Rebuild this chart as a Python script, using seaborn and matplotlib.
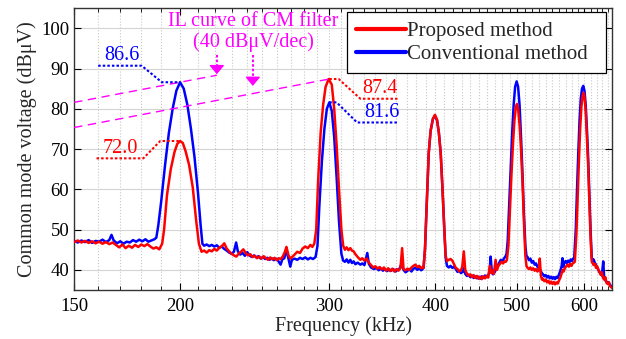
import numpy as np
import pandas as pd
import matplotlib
matplotlib.use("Agg")
import matplotlib.pyplot as plt
from matplotlib.lines import Line2D
from matplotlib.ticker import FixedLocator, NullFormatter
import seaborn as sns

# ---------------------------------------------------------
# Data (kHz, dBuV)
# ---------------------------------------------------------
conv_freq = [
    150, 151.5, 153, 154.5, 156, 157.5, 159, 160.5, 162, 163.5, 165, 166, 167, 168.5, 170,
    171.5, 173, 174.5, 176, 177.5, 179, 180.5, 182, 183.5, 185, 186.5, 187.5,
    188.5, 190, 192, 194, 196, 198, 200, 202, 204, 206, 208, 210, 211.5, 212.5,
    213.5, 215, 216.5, 218, 219.5, 221, 222.5, 224, 225.5, 227, 228.5, 230, 231.5, 232.9,
    234, 235.5, 237, 238.5, 240, 241.5, 243, 244.5, 246, 247.5, 249, 250.5, 252, 253.5,
    255, 256.5, 258, 259.5, 261, 262.8, 264, 265.5, 267, 268, 269.8, 271, 273, 275, 277,
    279, 281, 283, 285, 287, 289,
    290.5, 292, 294, 296, 298, 300, 302, 304, 306, 308, 310, 311.5,
    313, 314.5, 316, 317.6, 319, 320.5, 322, 324, 326.4, 328, 330, 332.6, 334, 336, 338.6,
    341, 343, 345, 347, 349, 351, 353, 355, 357, 359, 361, 363, 365, 367, 369, 371, 373,
    375, 377, 379, 381, 383, 385, 386.5, 387.5,
    389, 391, 393, 395, 397.5, 399.7, 402, 404, 406, 408, 410, 411.5,
    413, 415, 417, 419, 421, 423, 425, 427, 429, 431, 432.5, 434, 436, 438, 440, 442, 444,
    446, 448, 450, 452, 454, 456, 458, 460, 462, 463.5, 465, 466.5, 468, 470, 472, 474,
    476, 478, 480, 482, 484, 485.5,
    487, 489, 491, 493, 495, 497, 499, 501, 503, 505, 507, 509, 511, 512.5,
    514, 516, 518, 520, 522, 524, 526, 528, 530, 532, 534, 536, 538, 540, 542, 544, 546,
    548, 550, 552, 554, 556, 558, 560, 562, 564, 565.2, 566.5, 568, 570, 572, 574, 576,
    578, 580, 582, 583.5,
    586, 588, 590, 592, 594, 596, 598, 600, 602, 604, 606, 608, 610, 612,
    613.5, 615, 617, 619, 621, 623, 625, 627, 629, 631.4, 633, 635, 637, 639, 641, 643,
    645, 647,
]
conv_level = [
    47.2, 46.8, 47.3, 46.9, 47.4, 46.7, 47.2, 47.0, 47.5, 46.9, 47.4, 48.7, 47.3, 46.6, 47.1,
    46.5, 47.0, 46.8, 47.4, 47.0, 47.5, 47.1, 47.6, 47.0, 47.3, 47.6, 48.0,
    51.0, 57.0, 66.0, 74.0, 80.0, 84.5, 86.6, 85.0, 81.0, 75.0, 68.0, 59.0, 51.0, 46.5,
    46.0, 46.3, 45.9, 46.2, 45.8, 46.1, 45.5, 45.8, 45.2, 44.8, 44.3, 44.0, 44.5, 46.8,
    44.6, 43.8, 44.2, 43.5, 44.4, 43.6, 43.2, 43.6, 43.1, 43.4, 42.8, 43.2, 42.7, 43.0,
    42.5, 42.9, 42.4, 42.8, 42.3, 41.3, 42.6, 42.9, 45.2, 43.5, 40.8, 42.5, 42.8, 42.5, 43.0,
    42.7, 43.1, 42.6, 43.0, 42.7, 43.2,
    46.0, 56.0, 67.0, 75.0, 80.0, 81.6, 79.5, 73.0, 63.0, 52.0, 44.0, 42.3,
    42.0, 42.6, 41.8, 42.5, 41.7, 42.1, 41.4, 41.8, 41.3, 41.6, 41.2, 44.2, 41.5, 40.6, 40.2,
    40.5, 39.9, 40.3, 39.8, 40.2, 39.7, 40.1, 39.8, 40.2, 39.6, 40.0, 40.3, 41.5, 40.0, 39.4,
    39.8, 40.1, 39.6, 40.3, 40.5, 40.0, 40.4, 39.9, 40.2, 40.5,
    45.0, 57.0, 69.0, 74.5, 77.5, 78.3, 77.1, 74.0, 69.0, 60.0, 50.0, 43.0,
    41.0, 40.6, 41.0, 40.5, 40.8, 40.2, 39.5, 39.8, 39.2, 39.5, 40.5, 39.0, 38.5, 38.8,
    38.2, 38.6, 38.0, 38.4, 37.9, 38.3, 37.8, 38.4, 38.0, 38.6, 38.2, 38.8, 39.2, 43.3,
    39.5, 38.9, 39.4, 40.2, 41.0, 41.8, 42.5, 42.0, 42.8, 43.3, 44.0,
    47.0, 56.0, 65.0, 74.0, 81.0, 85.5, 86.8, 85.5, 81.0, 73.0, 64.0, 54.0, 46.0, 43.5,
    43.2, 42.4, 42.8, 41.8, 42.2, 41.3, 41.6, 40.8, 40.4, 40.0, 39.3, 38.9, 38.4, 38.7,
    38.1, 38.5, 37.9, 38.3, 37.8, 38.2, 37.7, 38.3, 38.0, 38.9, 39.8, 41.0, 42.9, 40.8,
    41.8, 42.2, 41.6, 42.3, 41.9, 42.6, 42.2, 42.8, 43.0,
    50.0, 60.0, 69.0, 77.0, 82.5, 85.0, 85.7, 84.5, 81.0, 75.0, 68.0, 59.0, 50.0, 43.0,
    42.2, 42.6, 41.8, 41.3, 40.6, 40.0, 39.4, 39.0, 38.6, 42.1, 38.0, 37.4, 37.0, 36.7,
    36.9, 36.3, 36.0, 35.8,
]

prop_freq = [
    150, 151.5, 153, 154.5, 156, 157.5, 159, 160.5, 162, 163.5, 165, 166.5, 168, 169.5,
    171, 172.5, 174, 175.5, 177, 178.5, 180, 181.5, 183, 184.5, 186, 187.5, 189,
    190.5, 191.5, 193, 195, 197, 198.5, 200, 201.5, 203, 205, 207, 209, 210.5, 212,
    213.5, 215, 216.5, 218, 219.5, 221, 222.5, 224, 225.5, 227, 228.5, 230, 231.5, 233,
    234.5, 236, 237.5, 239, 240.5, 242, 243.5, 245, 246.5, 248, 249.5, 251, 252.5, 254,
    255.5, 257, 258.5, 260, 261.5, 263, 264.5, 266, 267, 268.5, 270, 271.5, 273, 275,
    277, 279, 281, 283, 285, 286.5, 288,
    289.5, 291, 293, 295, 297, 299.5, 302, 304, 306, 308, 310, 311.5,
    313, 314.5, 316, 317.6, 319, 320.5, 322, 324, 326.4, 328, 330, 332, 334, 336, 338,
    340, 342, 344, 346, 348, 350, 352, 354, 356, 358, 360, 362, 364, 365.6, 367, 369,
    371, 373, 375, 377, 379, 381, 383, 385, 386.5, 387.5,
    389, 391, 393, 395, 397.5, 399.7, 402, 404, 406, 408, 410, 411.5,
    413, 415, 417, 419, 421, 423, 425, 427, 429, 430.5, 432.3, 434, 436, 438, 440, 442,
    444, 446, 448, 450, 452, 454, 456, 458, 460, 462, 464, 466, 468, 469, 471.3, 473,
    475, 477, 479, 481, 483, 484.5,
    486, 488, 490, 492, 494, 496, 498, 499.5, 501, 503, 505, 507, 509, 511, 512.5,
    514, 516, 518, 520, 522, 524, 526, 528, 530, 531.4, 533, 534.5, 536, 538, 540, 542,
    544, 546, 548, 550, 552, 554, 556, 558, 560, 562, 564, 565.5, 567, 569, 571, 573,
    575, 577, 579, 581, 583, 584.5,
    587, 589, 591, 593, 595, 597, 598.5, 600, 602, 604, 606, 608, 610, 612,
    613.5, 615, 617.6, 619, 621, 623, 625, 627, 629, 631, 633, 635, 637, 639, 641, 643,
    645, 647,
]
prop_level = [
    46.9, 47.3, 46.8, 47.2, 46.7, 47.1, 46.6, 47.0, 46.5, 46.9, 46.4, 46.8, 46.2, 45.6,
    46.3, 45.4, 46.0, 45.5, 46.2, 45.7, 46.3, 45.9, 46.4, 45.8, 45.3, 45.6, 45.1,
    46.5, 50.0, 58.5, 65.0, 69.3, 71.3, 72.0, 71.5, 69.5, 66.0, 60.5, 52.0, 46.5, 44.5,
    44.8, 44.3, 44.9, 44.6, 45.2, 44.8, 45.5, 45.9, 46.6, 45.3, 44.6, 44.0, 43.6, 43.3,
    44.0, 44.5, 45.1, 44.2, 43.6, 43.9, 43.2, 43.5, 42.9, 43.3, 42.8, 43.4, 42.9, 42.5,
    43.1, 42.6, 43.0, 42.4, 42.9, 42.7, 43.4, 44.6, 45.7, 43.6, 42.8, 43.3, 43.8, 44.5,
    44.2, 45.3, 45.8, 45.4, 46.2, 45.7, 46.5,
    50.0, 62.0, 74.0, 81.0, 85.5, 87.4, 86.0, 80.0, 71.0, 60.0, 50.0, 46.0,
    45.0, 45.6, 44.9, 45.4, 44.8, 44.6, 43.9, 43.2, 42.5, 42.9, 42.3, 42.8, 41.8, 41.2, 40.6,
    40.9, 40.3, 40.7, 40.1, 40.6, 39.8, 40.4, 39.7, 40.3, 39.6, 40.2, 39.8, 40.5, 45.4, 40.2, 39.9,
    40.3, 40.0, 40.6, 41.0, 41.3, 40.7, 41.0, 40.4, 40.6, 40.5,
    45.0, 57.0, 69.0, 74.5, 77.5, 78.5, 77.3, 74.0, 69.0, 60.0, 50.0, 43.5,
    42.2, 42.5, 42.7, 42.3, 41.4, 40.5, 40.2, 39.6, 39.9, 40.8, 44.6, 40.0, 39.0, 38.6, 38.9, 38.2,
    38.7, 38.0, 38.5, 37.8, 38.3, 37.7, 38.4, 37.9, 38.5, 38.1, 41.0, 39.2, 39.8, 39.0, 42.5, 40.0,
    41.0, 41.5, 42.0, 41.6, 42.1, 42.0,
    42.5, 46.0, 55.0, 63.5, 71.0, 77.0, 80.5, 81.2, 80.0, 76.0, 70.0, 62.0, 52.0, 43.5, 41.0,
    40.5, 40.2, 40.6, 40.0, 40.4, 39.8, 40.2, 39.6, 40.0, 42.8, 38.6, 37.6, 37.8, 37.2, 37.6, 36.9,
    37.3, 36.6, 37.1, 36.5, 37.0, 36.4, 36.9, 36.6, 37.4, 38.1, 39.2, 40.0, 39.6, 40.5, 40.9, 41.3,
    40.8, 41.5, 41.0, 41.6, 41.8, 42.0,
    49.0, 58.0, 67.0, 75.0, 80.5, 83.3, 84.0, 83.0, 79.5, 73.0, 66.0, 57.0, 48.0, 42.0,
    41.7, 41.2, 41.5, 40.5, 40.9, 40.1, 39.5, 38.8, 39.4, 38.0, 37.6, 38.2, 36.8, 36.5, 36.9, 36.0,
    35.7, 35.5,
]

# Peak call-outs: label text and the dotted leader (start, knee, knee, peak)
callout_labels = ["86.6", "72.0", "87.4", "81.6"]
callout_freqs = [[160.1, 180.2, 190.3, 200], [159.4, 181, 189.5, 200],
                 [300, 307.7, 326.4, 361], [300, 306, 323.5, 362]]
callout_levels = [[90.7, 90.7, 86.6, 86.6], [67.7, 67.7, 72.0, 72.0],
                  [87.4, 87.4, 82.5, 82.5], [81.6, 81.6, 76.6, 76.6]]
callout_text_pos = [(171, 90.9), (170, 67.9), (344, 82.7), (346, 76.8)]

# IL curve of the CM filter, 40 dBuV/dec slope anchored at two peaks
il_anchor_freq = [200, 300]
il_anchor_level = [86.6, 87.4]
il_end_freq = [221, 300]
il_slope = 40

arrow_freq = [221, 243.7]
arrow_top = [93.4, 93.4]
arrow_tip = [88.6, 85.7]

x_major = [150, 200, 300, 400, 500, 600]
y_major = [40, 50, 60, 70, 80, 90, 100]

RED = "#ff0000"
BLUE = "#0000ff"
MAGENTA = "#ff00ff"

sns.set_theme(style="ticks")
plt.rcParams["font.family"] = ["Liberation Serif", "DejaVu Serif"]

fig = plt.figure(figsize=(6.26, 3.39), dpi=100)
ax = fig.add_axes([0.1185, 0.1445, 0.8595, 0.8315])

conv_df = pd.DataFrame({"Frequency": conv_freq, "Level": conv_level})
prop_df = pd.DataFrame({"Frequency": prop_freq, "Level": prop_level})

sns.lineplot(data=conv_df, x="Frequency", y="Level", estimator=None, sort=False,
             color=BLUE, lw=1.8, ax=ax, zorder=3)
sns.lineplot(data=prop_df, x="Frequency", y="Level", estimator=None, sort=False,
             color=RED, lw=1.8, ax=ax, zorder=4)

ax.set_xscale("log")
ax.set_xlim(150, 647)
ax.set_ylim(35, 105)

# ticks / grid in the MATLAB-ish style of the figure
ax.xaxis.set_major_locator(FixedLocator(x_major))
ax.set_xticklabels([str(v) for v in x_major])
minor = [f for f in range(160, 650, 10) if f not in x_major]
ax.xaxis.set_minor_locator(FixedLocator(minor))
ax.xaxis.set_minor_formatter(NullFormatter())
ax.set_yticks(y_major)
ax.tick_params(which="both", direction="in", top=True, right=True, labelsize=13.5,
               colors="black")
ax.tick_params(axis="x", which="major", pad=6)
ax.tick_params(which="major", length=5, width=0.8)
ax.tick_params(which="minor", length=3, width=0.6)
ax.grid(True, axis="y", which="major", color="#d4d4d4", lw=0.8, ls="-")
ax.grid(True, axis="x", which="both", color="#c8c8c8", lw=0.8, ls=":")
ax.set_axisbelow(True)
for sp in ax.spines.values():
    sp.set_color("#333333")
    sp.set_linewidth(1.0)

ax.set_xlabel("Frequency (kHz)", fontsize=14.5, labelpad=1)
ax.set_ylabel("Common mode voltage (dBμV)", fontsize=14.5, labelpad=3)

# IL curves
for a_f, a_l, e_f in zip(il_anchor_freq, il_anchor_level, il_end_freq):
    xs = np.array([150, e_f])
    ys = a_l + il_slope * np.log10(xs / a_f)
    ax.plot(xs, ys, color=MAGENTA, lw=1.0, ls=(0, (6, 4)), zorder=5)

for f, top, tip in zip(arrow_freq, arrow_top, arrow_tip):
    ax.plot([f, f], [top, tip + 1.5], color=MAGENTA, lw=1.5, ls=(0, (1.2, 1.0)), zorder=5)
    ax.annotate("", xy=(f, tip), xytext=(f, tip + 1.9),
                arrowprops=dict(arrowstyle="-|>,head_length=0.45,head_width=0.38",
                                color=MAGENTA, lw=1.0, shrinkA=0, shrinkB=0), zorder=5)

ax.text(244, 99.0, "IL curve of CM filter\n(40 dBμV/dec)", color=MAGENTA,
        fontsize=14.5, ha="center", va="center", linespacing=1.1, zorder=6)

# peak call-outs
callout_colors = [BLUE, RED, RED, BLUE]
for lab, xs, ys, (tx, ty), c in zip(callout_labels, callout_freqs, callout_levels,
                                   callout_text_pos, callout_colors):
    ax.plot(xs, ys, color=c, lw=1.5, ls=(0, (1.2, 1.0)), zorder=6)
    ax.text(tx, ty, lab, color=c, fontsize=14.5, ha="center", va="bottom", zorder=6)

# legend box spans px 347..606 horizontally, top at px 12
handles = [Line2D([], [], color=RED, lw=3), Line2D([], [], color=BLUE, lw=3)]
leg = ax.legend(handles, ["Proposed method", "Conventional method"],
                loc="upper left", bbox_to_anchor=(0.507, 0.5, 0.482, 0.485),
                mode="expand", borderaxespad=0, fontsize=15, handlelength=2.4,
                handletextpad=0.05, labelspacing=0.15, borderpad=0.45,
                fancybox=False, framealpha=1, edgecolor="black")
leg.get_frame().set_linewidth(0.9)
leg.set_zorder(10)

fig.savefig("out.png", dpi=100)
